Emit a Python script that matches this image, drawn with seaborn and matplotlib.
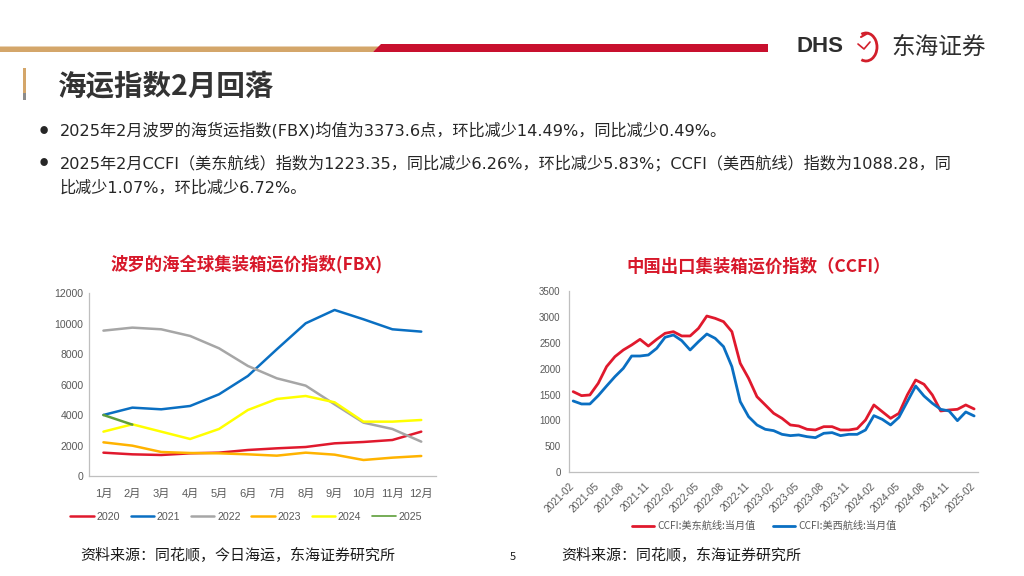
import matplotlib
matplotlib.use("Agg")
import matplotlib.pyplot as plt
import seaborn as sns
import pandas as pd
import numpy as np
from matplotlib.patches import Polygon, Rectangle, Arc
from matplotlib.lines import Line2D

sns.set_theme(style="white")
plt.rcParams['font.family'] = ['Noto Sans CJK SC', 'DejaVu Sans']

# ---------------- data ----------------
months = ["1月", "2月", "3月", "4月", "5月", "6月", "7月", "8月", "9月", "10月", "11月", "12月"]
fbx_2020 = [1533, 1423, 1380, 1489, 1533, 1708, 1818, 1905, 2146, 2234, 2365, 2913]
fbx_2021 = [4008, 4490, 4380, 4599, 5366, 6570, 8322, 10030, 10906, 10293, 9636, 9483]
fbx_2022 = [9548, 9745, 9636, 9198, 8388, 7227, 6417, 5935, 4709, 3504, 3088, 2256]
fbx_2023 = [2212, 1993, 1577, 1511, 1489, 1423, 1336, 1533, 1402, 1051, 1205, 1314]
fbx_2024 = [2913, 3395, 2913, 2431, 3088, 4336, 5059, 5256, 4840, 3570, 3570, 3679]
fbx_2025 = [4008, 3374]
fbx_years = ["2020", "2021", "2022", "2023", "2024", "2025"]

ccfi_months = pd.period_range("2021-02", "2025-02", freq="M").strftime("%Y-%m").tolist()
ccfi_east = [1557, 1480, 1493, 1718, 2040, 2233, 2361, 2458, 2567, 2438, 2567, 2683, 2715,
             2632, 2632, 2779, 3017, 2972, 2908, 2715, 2104, 1814, 1460, 1300, 1139, 1042,
             914, 894, 830, 817, 881, 881, 817, 817, 843, 1010, 1300, 1171, 1042, 1139,
             1493, 1782, 1699, 1493, 1184, 1203, 1216, 1300, 1223]
ccfi_west = [1377, 1319, 1319, 1480, 1666, 1847, 2007, 2245, 2245, 2265, 2393, 2606, 2651,
             2541, 2361, 2522, 2670, 2586, 2426, 2040, 1364, 1074, 914, 830, 804, 733,
             708, 721, 688, 669, 753, 766, 708, 733, 733, 817, 1094, 1023, 914, 1062,
             1364, 1666, 1473, 1332, 1216, 1184, 997, 1165, 1088]
ccfi_names = ["CCFI:美东航线:当月值", "CCFI:美西航线:当月值"]

# ---------------- figure ----------------
W, H = 1024, 576
fig = plt.figure(figsize=(W / 100, H / 100), dpi=100)
fig.patch.set_facecolor("white")

bg = fig.add_axes([0, 0, 1, 1], zorder=0)
bg.set_xlim(0, W)
bg.set_ylim(H, 0)
bg.axis("off")

# header bars
bg.add_patch(Polygon([[0, 46.5], [380, 46.5], [373, 52], [0, 52]], closed=True, color="#D4A66A", lw=0))
bg.add_patch(Polygon([[381, 44], [768, 44], [768, 52], [373, 52]], closed=True, color="#C8102E", lw=0))
# logo
bg.text(796, 46.5, "DHS", fontsize=16, fontweight="bold", color="#2E2E2E", ha="left", va="center",
        family=["Liberation Sans", "DejaVu Sans"])
bg.add_patch(Arc((866, 47), 22, 28, theta1=-110, theta2=110, color="#D21F2B", lw=2))
bg.plot([858, 864, 870], [44, 49, 42], color="#D21F2B", lw=1.2)
bg.plot([861, 868], [37, 33], color="#D21F2B", lw=1.5)
bg.text(891, 47, "东海证券", fontsize=17, color="#2E2E2E", ha="left", va="center")

# title
bg.add_patch(Rectangle((23, 68), 3, 25, color="#D4A66A", lw=0))
bg.add_patch(Rectangle((23, 93), 3, 7, color="#8C8C8C", lw=0))
bg.text(58, 86, "海运指数2月回落", fontsize=20.5, fontweight="bold", color="#333333", ha="left", va="center")

# bullets
txt_color = "#262626"
bfs = 11.6
bfam = ["DejaVu Sans", "Noto Sans CJK SC"]
bg.text(40, 130, "●", fontsize=6, color=txt_color, ha="left", va="center")
bg.text(60, 130, "2025年2月波罗的海货运指数(FBX)均值为3373.6点，环比减少14.49%，同比减少0.49%。",
        fontsize=bfs, color=txt_color, ha="left", va="center", family=bfam)
bg.text(40, 163, "●", fontsize=6, color=txt_color, ha="left", va="center")
bg.text(60, 163, "2025年2月CCFI（美东航线）指数为1223.35，同比减少6.26%，环比减少5.83%；CCFI（美西航线）指数为1088.28，同",
        fontsize=bfs, color=txt_color, ha="left", va="center", family=bfam)
bg.text(60, 188, "比减少1.07%，环比减少6.72%。", fontsize=bfs, color=txt_color, ha="left", va="center",
        family=bfam)

# footer
bg.text(80, 555, "资料来源：同花顺，今日海运，东海证券研究所", fontsize=10.8, color="#1A1A1A", ha="left", va="center")
bg.text(513, 557, "5", fontsize=8, color="#1A1A1A", ha="center", va="center")
bg.text(561, 555, "资料来源：同花顺，东海证券研究所", fontsize=10.8, color="#1A1A1A", ha="left", va="center")

title_red = "#D7182A"
axis_grey = "#BFBFBF"
lab_grey = "#595959"
num_font = ["Liberation Sans", "Noto Sans CJK SC"]

def fx(px):
    return px / W

def fy(py):
    return (H - py) / H

# ---------------- left chart: FBX ----------------
axL = fig.add_axes([fx(89), fy(476), fx(435.7) - fx(89), fy(293.3) - fy(476)], zorder=2)
axL.patch.set_alpha(0)
rows = []
series = [fbx_2020, fbx_2021, fbx_2022, fbx_2023, fbx_2024, fbx_2025]
for yr, vals in zip(fbx_years, series):
    for i, v in enumerate(vals):
        rows.append({"year": yr, "m": i, "v": v})
dfL = pd.DataFrame(rows)
palL = {"2020": "#E0192D", "2021": "#0A6FC2", "2022": "#A6A6A6",
        "2023": "#FFB300", "2024": "#FFFF00", "2025": "#5E9E3A"}
sns.lineplot(data=dfL, x="m", y="v", hue="year", palette=palL, ax=axL, lw=1.8, legend=False,
             hue_order=fbx_years)
axL.set_xlim(-0.5, 11.5)
axL.set_ylim(0, 12000)
axL.set_yticks(np.arange(0, 12001, 2000))
axL.set_xticks(np.arange(-0.5, 11.6, 1))
axL.set_xticklabels([])
axL.set_xticks(np.arange(12), minor=True)
axL.set_xticklabels(months, minor=True)
axL.tick_params(axis="x", which="major", length=4, color=axis_grey, width=0.8)
axL.tick_params(axis="x", which="minor", length=0, pad=9, labelsize=8, labelcolor=lab_grey)
axL.tick_params(axis="y", length=0, pad=4, labelsize=7.6, labelcolor=lab_grey)
for lab in axL.get_xticklabels(minor=True) + axL.get_yticklabels():
    lab.set_family(num_font)
axL.set_xlabel("")
axL.set_ylabel("")
for s in ["top", "right"]:
    axL.spines[s].set_visible(False)
for s in ["left", "bottom"]:
    axL.spines[s].set_color(axis_grey)
    axL.spines[s].set_linewidth(0.9)
axL.grid(False)
bg.text(247, 264, "波罗的海全球集装箱运价指数(FBX)", fontsize=12.5, fontweight="bold", color=title_red,
        ha="center", va="center")
handlesL = [Line2D([], [], color=palL[y], lw=1.8 if y != "2025" else 1.2) for y in fbx_years]
legL = axL.legend(handlesL, fbx_years, ncol=6, loc="center", bbox_to_anchor=(fx(246), fy(517)),
                  bbox_transform=fig.transFigure, frameon=False, fontsize=7.7,
                  handlelength=2.2, handletextpad=0.25, columnspacing=1.0)
for t in legL.get_texts():
    t.set_color(lab_grey)
    t.set_family(num_font)

# ---------------- right chart: CCFI ----------------
axR = fig.add_axes([fx(569), fy(472.3), fx(978.3) - fx(569), fy(291) - fy(472.3)], zorder=2)
axR.patch.set_alpha(0)
n = len(ccfi_months)
dfR = pd.DataFrame({
    "idx": list(range(n)) * 2,
    "v": ccfi_east + ccfi_west,
    "s": [ccfi_names[0]] * n + [ccfi_names[1]] * n,
})
palR = {ccfi_names[0]: "#E0192D", ccfi_names[1]: "#0A6FC2"}
sns.lineplot(data=dfR, x="idx", y="v", hue="s", palette=palR, ax=axR, lw=2.0, legend=False)
axR.set_xlim(-0.5, n - 0.5)
axR.set_ylim(0, 3500)
axR.set_yticks(np.arange(0, 3501, 500))
tick_idx = list(range(0, n, 3))
axR.set_xticks([i - 0.5 for i in tick_idx])
axR.set_xticklabels([ccfi_months[i] for i in tick_idx], rotation=45, ha="right",
                    rotation_mode="anchor")
axR.tick_params(axis="x", length=4, color=axis_grey, width=0.8, pad=2, labelsize=7.3, labelcolor=lab_grey)
axR.tick_params(axis="y", length=3, color=axis_grey, width=0.8, pad=3, labelsize=7, labelcolor=lab_grey)
for lab in axR.get_xticklabels() + axR.get_yticklabels():
    lab.set_family(num_font)
axR.set_xlabel("")
axR.set_ylabel("")
for s in ["top", "right"]:
    axR.spines[s].set_visible(False)
for s in ["left", "bottom"]:
    axR.spines[s].set_color(axis_grey)
    axR.spines[s].set_linewidth(0.9)
axR.grid(False)
bg.text(759, 267, "中国出口集装箱运价指数（CCFI）", fontsize=12.5, fontweight="bold", color=title_red,
        ha="center", va="center")
handlesR = [Line2D([], [], color=palR[k], lw=2.0) for k in ccfi_names]
legR = axR.legend(handlesR, ccfi_names, ncol=2, loc="center", bbox_to_anchor=(fx(764), fy(526)),
                  bbox_transform=fig.transFigure, frameon=False, fontsize=7.3,
                  handlelength=2.2, handletextpad=0.3, columnspacing=1.7)
for t in legR.get_texts():
    t.set_color(lab_grey)

fig.savefig("out.png", dpi=100, facecolor="white")
